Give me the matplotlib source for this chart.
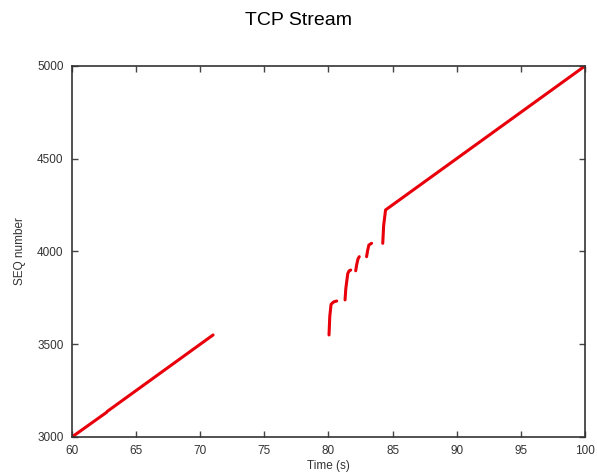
import matplotlib
matplotlib.use("Agg")
import matplotlib.pyplot as plt

# segments of the TCP stream (time s, SEQ number)
seg1_t = [60.0, 62.7]
seg1_s = [3000, 3133]
seg2_t = [62.75, 71.0]
seg2_s = [3138, 3550]
seg3_t = [80.04, 80.1, 80.2, 80.4, 80.64]
seg3_s = [3550, 3650, 3715, 3728, 3733]
seg4_t = [81.29, 81.35, 81.5, 81.6, 81.73]
seg4_s = [3739, 3800, 3880, 3895, 3900]
seg5_t = [82.12, 82.2, 82.3, 82.4]
seg5_s = [3896, 3930, 3960, 3972]
seg6_t = [82.97, 83.05, 83.15, 83.36]
seg6_s = [3972, 4005, 4035, 4044]
seg7_t = [84.23, 84.3, 84.45, 100.0]
seg7_s = [4044, 4140, 4224, 5000]

segments = [(seg1_t, seg1_s), (seg2_t, seg2_s), (seg3_t, seg3_s), (seg4_t, seg4_s),
            (seg5_t, seg5_s), (seg6_t, seg6_s), (seg7_t, seg7_s)]

xticks = [60, 65, 70, 75, 80, 85, 90, 95, 100]
yticks = [3000, 3500, 4000, 4500, 5000]

plt.rcParams['font.family'] = ['Liberation Sans', 'DejaVu Sans']

fig = plt.figure(figsize=(5.97, 4.74), dpi=100)
ax = fig.add_axes([0.1206, 0.0781, 0.8593, 0.7827])

for t, s in segments:
    ax.plot(t, s, color='#e8000b', linewidth=2.2, solid_capstyle='round', solid_joinstyle='round')

ax.set_xlim(60, 100)
ax.set_ylim(3000, 5000)
ax.set_xticks(xticks)
ax.set_yticks(yticks)
ax.tick_params(direction='in', length=4, width=1, labelsize=8.5, colors='#444444',
               labelcolor='#333333', top=True, right=True, pad=6)
for sp in ax.spines.values():
    sp.set_linewidth(1.2)
    sp.set_color('#333333')
ax.set_xlabel('Time (s)', fontsize=8.5, color='#333333', labelpad=2)
ax.set_ylabel('SEQ number', fontsize=8.5, color='#333333', labelpad=8)
fig.suptitle('TCP Stream', fontsize=14, y=0.975)

fig.savefig('out.png', dpi=100)
